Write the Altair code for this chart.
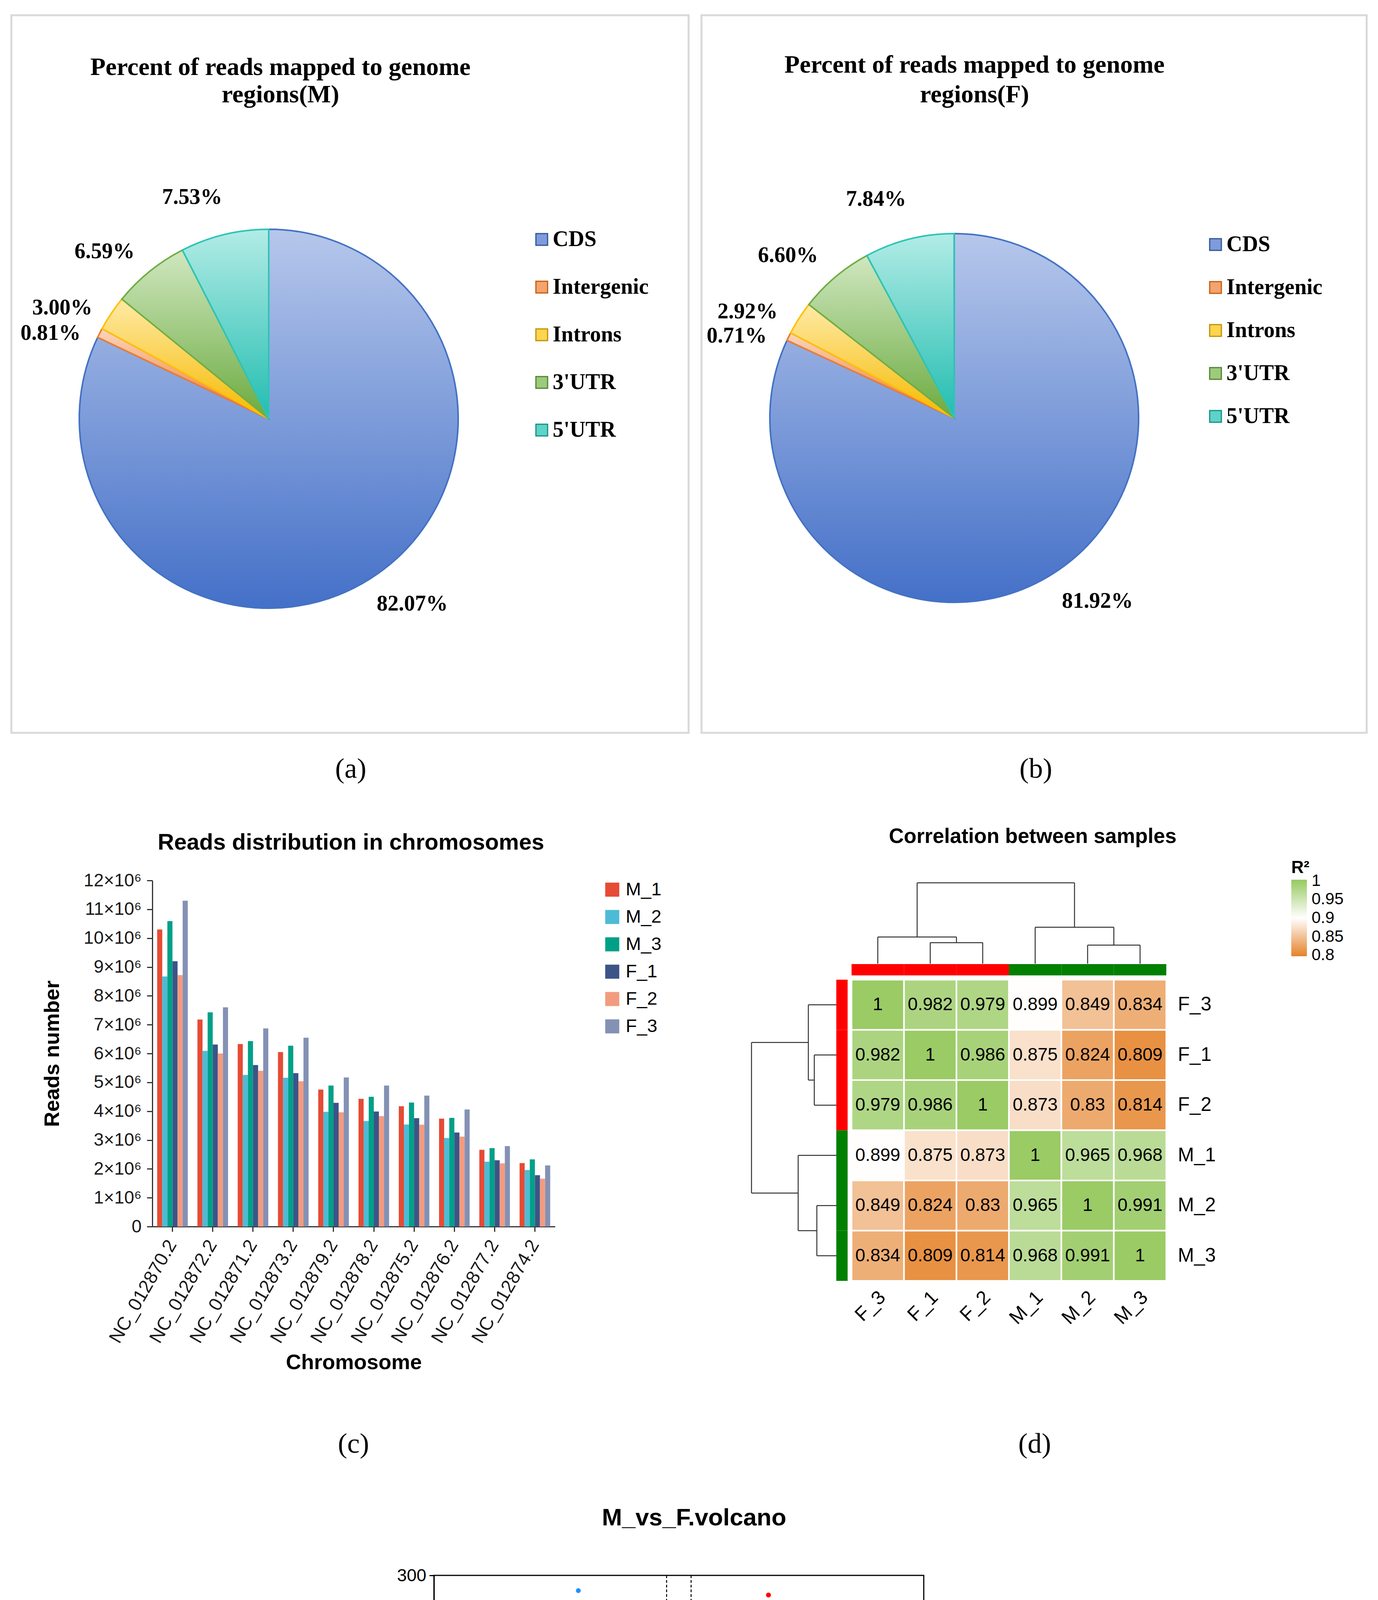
import math
import altair as alt
import pandas as pd

SERIF = "Liberation Serif"
SANS = "Liberation Sans"

# ======================= DATA =======================
regions = ["CDS", "Intergenic", "Introns", "3'UTR", "5'UTR"]
pct_M = [82.07, 0.81, 3.00, 6.59, 7.53]
pct_F = [81.92, 0.71, 2.92, 6.60, 7.84]
title_M = ["Percent of reads mapped to genome", "regions(M)"]
title_F = ["Percent of reads mapped to genome", "regions(F)"]
captions = ["(a)", "(b)", "(c)", "(d)", "(e)"]

chromosomes = ["NC_012870.2", "NC_012872.2", "NC_012871.2", "NC_012873.2", "NC_012879.2",
               "NC_012878.2", "NC_012875.2", "NC_012876.2", "NC_012877.2", "NC_012874.2"]
samples = ["M_1", "M_2", "M_3", "F_1", "F_2", "F_3"]
reads_M_1 = [10.30, 7.18, 6.33, 6.05, 4.75, 4.43, 4.17, 3.74, 2.66, 2.20]
reads_M_2 = [8.67, 6.09, 5.26, 5.16, 3.98, 3.66, 3.54, 3.07, 2.25, 1.96]
reads_M_3 = [10.59, 7.43, 6.43, 6.27, 4.89, 4.50, 4.30, 3.77, 2.72, 2.33]
reads_F_1 = [9.20, 6.31, 5.60, 5.32, 4.29, 3.99, 3.76, 3.26, 2.30, 1.78]
reads_F_2 = [8.72, 6.00, 5.40, 5.04, 3.96, 3.83, 3.53, 3.12, 2.19, 1.66]
reads_F_3 = [11.30, 7.60, 6.87, 6.55, 5.17, 4.89, 4.54, 4.06, 2.79, 2.12]
reads_ticks = list(range(0, 13))

hm_samples = ["F_3", "F_1", "F_2", "M_1", "M_2", "M_3"]
hm_groups = ["F", "F", "F", "M", "M", "M"]
r2_matrix = [
    [1, 0.982, 0.979, 0.899, 0.849, 0.834],
    [0.982, 1, 0.986, 0.875, 0.824, 0.809],
    [0.979, 0.986, 1, 0.873, 0.83, 0.814],
    [0.899, 0.875, 0.873, 1, 0.965, 0.968],
    [0.849, 0.824, 0.83, 0.965, 1, 0.991],
    [0.834, 0.809, 0.814, 0.968, 0.991, 1],
]
r2_ticks = [0.8, 0.85, 0.9, 0.95, 1.0]
dendro_merges = [("F_1", "F_2", 0.26), ("F_3", "F_1+F_2", 0.33), ("M_2", "M_3", 0.23),
                 ("M_1", "M_2+M_3", 0.45), ("F_3+F_1+F_2", "M_1+M_2+M_3", 1.0)]

sig_labels = ["up(2204)", "nosig(29,341)", "down(1399)"]
thr_fc = [-1, 1]
thr_p = [1.3]
nosig_pts = [(-0.98, 16.0), (-0.95, 13.2), (-0.92, 10.6), (-0.88, 8.2), (-0.82, 6.1), (-0.74, 4.4),
             (-0.64, 3.0), (-0.52, 2.0), (-0.40, 1.2), (-0.28, 0.6), (-0.96, 11.8), (-0.9, 7.2),
             (-0.78, 5.0), (-0.6, 2.4), (0.94, 19.0), (0.92, 16.5), (0.9, 14.0), (0.86, 11.5),
             (0.8, 9.0), (0.72, 7.0), (0.62, 5.2), (0.52, 3.6), (0.42, 2.4), (0.32, 1.4), (0.2, 0.7),
             (0.88, 12.8), (0.76, 8.0), (0.58, 4.2), (0.05, 0.3), (-0.12, 0.4), (-7.4, 0.5),
             (-6.8, 0.3), (-6.2, 0.7), (-5.6, 0.4), (-5.0, 0.8), (-4.4, 0.3), (-3.8, 0.6), (-3.2, 0.2),
             (-2.6, 0.9), (-2.0, 0.4), (-1.4, 0.7), (1.5, 0.4), (2.5, 0.6), (3.5, 0.3), (4.5, 0.7),
             (5.5, 0.4), (6.5, 0.8), (7.3, 0.5), (8.0, 0.3), (8.6, 0.7), (9.2, 0.4), (9.8, 0.6),
             (10.4, 0.3), (11.0, 0.5), (-6.5, 0.9), (11.1, 0.2)]
down_sparse = [(-8.21, 290.2), (-8.56, 275.4), (-6.74, 275.7), (-3.85, 189.4), (-6.47, 171.0),
               (-7.94, 160.0), (-8.71, 152.0), (-4.46, 142.6), (-9.84, 132.6), (-7.01, 135.9),
               (-6.36, 136.2), (-6.13, 132.6), (-3.81, 134.4), (-3.42, 122.1), (-6.12, 119.3),
               (-3.15, 116.8), (-4.53, 103.3), (-5.34, 101.5), (-3.06, 100.7), (-2.41, 101.7),
               (-6.24, 97.9), (-7.15, 94.1), (-6.82, 94.5), (-4.33, 93.7), (-4.93, 86.5), (-5.50, 83.3),
               (-7.18, 81.5), (-9.52, 74.4), (-3.64, 78.3), (-3.80, 76.0), (-3.55, 72.9), (-3.05, 73.3),
               (-2.91, 71.4), (-3.34, 68.3), (-3.18, 70.0), (-5.38, 75.7), (-5.60, 71.6), (-8.49, 66.9),
               (-8.21, 63.9), (-4.54, 66.6), (-4.77, 64.1), (-3.93, 62.6), (-3.88, 60.8), (-3.25, 62.2),
               (-2.44, 62.0), (-2.04, 60.4), (-6.25, 60.7), (-7.28, 57.9), (-8.44, 56.6), (-9.88, 54.8),
               (-6.21, 54.4), (-5.87, 53.8), (-5.36, 55.1), (-2.54, 58.3), (-2.45, 56.2), (-2.48, 54.1),
               (-3.97, 51.2), (-2.58, 50.8), (-2.21, 51.2), (-3.11, 49.9), (-11.30, 47.7), (-9.17, 45.7),
               (-4.79, 44.1), (-4.28, 43.2), (-2.15, 46.8), (-1.56, 47.3), (-1.99, 43.1), (-1.59, 44.0),
               (-3.44, 46.6), (-3.18, 44.9), (-8.48, 42.8), (-8.08, 42.2), (-7.95, 42.4), (-9.17, 38.2),
               (-8.01, 37.2), (-8.79, 34.3), (-7.05, 36.5), (-6.19, 36.3), (-5.80, 37.8), (-5.30, 34.3),
               (-7.15, 31.3), (-6.72, 28.3), (-10.04, 27.5), (-9.92, 25.4), (-8.62, 25.0), (-8.21, 26.9),
               (-7.95, 26.1), (-5.56, 31.1), (-5.70, 27.8), (-5.83, 25.7), (-4.73, 27.6), (-6.68, 20.1),
               (-7.60, 18.1), (-8.0, 15.2), (-7.55, 12.5), (-7.09, 14.8), (-6.73, 11.0), (-6.58, 8.1),
               (-5.72, 19.8), (-5.56, 17.9), (-5.03, 21.9), (-5.23, 14.0), (-4.70, 17.7), (-5.92, 11.0),
               (-5.30, 6.4), (-4.77, 11.0), (-3.97, 19.4), (-10.78, 20.4), (-10.03, 17.2), (-9.38, 13.7),
               (-8.90, 12.0), (-8.24, 9.8), (-7.75, 7.7), (-9.2, 5.2), (-8.9, 4.0), (-8.6, 3.0),
               (-8.3, 2.2), (-7.6, 2.9), (-7.3, 5.0), (-7.0, 3.2), (-6.8, 1.8), (-6.5, 4.4), (-6.3, 2.5),
               (-6.0, 6.0), (-5.8, 3.4), (-5.6, 1.6), (-5.4, 8.6), (-5.2, 4.1), (-5.0, 2.2), (-4.8, 6.5),
               (-4.6, 3.0), (-6.6, 7.3), (-7.2, 7.9), (-5.9, 9.0), (-6.9, 5.8), (-8.0, 9.6), (-4.9, 14.5),
               (-4.5, 9.0), (-4.6, 22.5), (-3.3, 41.5), (-2.9, 42.5), (-2.5, 40.8), (-2.1, 39.0),
               (-1.7, 41.0), (-1.4, 38.0), (-3.6, 38.5), (-2.3, 44.5), (-2.7, 47.5), (-3.0, 38.0),
               (-4.2, 26.0), (-3.7, 31.5), (-3.4, 35.0), (-1.3, 33.5), (-1.2, 29.5), (-4.0, 24.0)]
down_streak = [(-15.59, 34.4), (-14.60, 29.6), (-14.45, 29.0), (-14.24, 28.2), (-13.91, 26.5),
               (-13.75, 25.8), (-13.51, 24.8), (-13.30, 24.1), (-13.05, 23.2), (-12.85, 22.0),
               (-12.58, 21.1), (-12.35, 20.1), (-12.12, 19.0), (-11.90, 18.0), (-11.66, 16.9),
               (-11.40, 15.9), (-11.13, 14.8), (-10.85, 14.0), (-10.60, 13.1), (-10.35, 12.3),
               (-10.07, 11.5), (-9.80, 10.4), (-9.54, 9.5), (-9.30, 8.8), (-9.01, 7.9), (-8.75, 7.0),
               (-8.48, 6.0), (-8.20, 5.2), (-7.95, 4.3), (-7.70, 3.5), (-7.42, 2.7), (-7.02, 1.9),
               (-12.7, 21.8), (-11.0, 14.1), (-9.7, 9.6), (-8.6, 5.9)]
down_core_rows = [
    (2.0, [-6.9, -6.2, -5.5, -4.9, -4.3, -3.9, -3.5, -3.1, -2.7, -2.3, -1.9, -1.5, -1.1]),
    (3.6, [-6.6, -5.8, -5.1, -4.5, -4.1, -3.7, -3.3, -2.9, -2.5, -2.1, -1.7, -1.3, -1.02]),
    (5.8, [-4.35, -3.95, -3.55, -3.15, -2.75, -2.35, -1.95, -1.55, -1.15]),
    (8.2, [-4.2, -3.8, -3.4, -3.0, -2.6, -2.2, -1.8, -1.4, -1.03]),
    (10.7, [-4.1, -3.7, -3.3, -2.9, -2.5, -2.1, -1.7, -1.3]),
    (13.1, [-3.95, -3.55, -3.15, -2.75, -2.35, -1.95, -1.55, -1.12]),
    (15.6, [-3.8, -3.4, -3.0, -2.6, -2.2, -1.8, -1.4, -1.04]),
    (18.1, [-3.65, -3.25, -2.85, -2.45, -2.05, -1.65, -1.25]),
    (20.6, [-3.5, -3.1, -2.7, -2.3, -1.9, -1.5, -1.08]),
    (23.1, [-3.3, -2.9, -2.5, -2.1, -1.7, -1.3]),
    (25.6, [-3.15, -2.75, -2.35, -1.95, -1.55, -1.12]),
    (28.1, [-3.0, -2.6, -2.2, -1.8, -1.4]),
    (30.6, [-2.8, -2.4, -2.0, -1.6, -1.25]),
    (33.1, [-2.7, -2.3, -1.9, -1.5]),
    (36.0, [-2.9, -2.45, -2.05, -1.65]),
    (39.5, [-2.75, -2.25, -1.8]),
]
up_sparse = [(7.32, 287.4), (5.39, 230.4), (5.82, 201.7), (5.74, 183.3), (3.0, 170.2), (7.94, 166.1),
             (4.58, 161.5), (5.62, 159.5), (6.71, 161.5), (3.88, 147.9), (2.79, 138.1), (5.19, 136.2),
             (7.25, 136.0), (7.72, 130.6), (8.06, 126.6), (5.49, 122.8), (6.65, 120.9), (3.71, 114.1),
             (6.11, 113.1), (3.26, 109.2), (4.66, 105.8), (8.64, 103.7), (3.72, 102.8), (3.91, 101.4),
             (5.56, 102.1), (8.33, 100.2), (8.71, 100.5), (2.82, 98.5), (3.76, 97.5), (6.40, 97.4),
             (6.10, 93.9), (8.76, 91.5), (4.23, 91.0), (7.04, 90.8), (7.84, 92.5), (3.02, 89.2),
             (4.94, 89.4), (3.58, 87.0), (3.60, 84.5), (4.16, 87.5), (5.15, 84.8), (5.49, 85.1),
             (7.75, 85.1), (7.93, 84.2), (8.30, 86.2), (2.67, 82.1), (3.13, 80.1), (3.43, 81.8),
             (6.10, 82.1), (8.52, 78.4), (2.82, 76.5), (3.87, 77.4), (4.61, 76.6), (5.01, 74.7),
             (4.63, 72.5), (5.12, 72.8), (6.36, 73.8), (3.60, 71.9), (8.87, 70.8), (2.46, 67.9),
             (3.57, 67.9), (4.11, 68.3), (7.25, 69.5), (8.82, 65.9), (4.63, 65.0), (4.92, 65.2),
             (6.92, 65.0), (7.10, 63.7), (7.43, 63.2), (7.65, 61.3), (10.46, 62.6), (11.00, 62.3),
             (2.93, 63.4), (3.10, 61.5), (2.70, 60.3), (2.79, 57.3), (4.92, 60.9), (1.77, 57.8),
             (1.91, 53.0), (5.82, 58.9), (5.91, 55.8), (6.54, 59.3), (5.38, 56.5), (10.62, 56.8),
             (11.49, 58.6), (8.88, 57.4), (9.14, 54.5), (8.31, 53.5), (6.38, 52.5), (4.01, 58.7),
             (4.38, 57.5), (3.73, 55.8), (4.22, 54.4), (3.36, 54.0), (3.07, 51.6), (5.12, 51.1),
             (5.26, 51.6), (7.84, 46.1), (8.58, 40.0), (9.23, 39.8), (9.13, 37.7), (9.57, 36.2),
             (11.80, 35.1), (6.83, 37.2), (7.63, 36.8), (6.09, 45.0), (6.22, 43.8), (5.67, 43.6),
             (5.52, 40.0), (5.89, 37.5), (6.09, 35.1), (6.54, 29.9), (7.37, 30.6), (7.63, 31.8),
             (8.44, 29.2), (8.30, 27.3), (9.93, 26.8), (11.34, 23.6), (11.76, 22.8), (11.83, 22.4),
             (8.88, 22.4), (9.34, 23.3), (9.54, 20.0), (10.48, 21.7), (10.24, 18.4), (9.93, 16.7),
             (8.58, 18.4), (8.92, 18.4), (7.84, 20.8), (7.15, 24.5), (7.77, 24.9), (13.14, 16.7),
             (13.90, 15.8), (13.73, 9.6), (15.81, 6.1), (11.69, 12.9), (11.89, 12.0), (11.20, 10.6),
             (11.34, 8.7), (10.93, 6.8), (11.66, 2.7), (10.65, 4.0), (10.10, 5.4), (7.47, 12.5),
             (7.81, 12.0), (14.73, 29.6), (14.01, 27.1), (1.6, 48.5), (2.1, 47.0), (2.6, 49.5),
             (3.2, 47.8), (3.9, 48.9), (4.4, 46.9), (2.4, 52.0), (3.6, 50.8), (1.3, 46.5), (6.8, 22.0),
             (7.2, 18.0), (6.9, 15.5), (7.4, 15.8), (6.6, 26.5), (7.0, 28.0), (8.2, 15.0), (8.0, 25.5),
             (5.6, 30.5), (5.9, 27.5), (6.2, 24.0), (8.0, 2.0), (8.5, 3.5), (9.0, 1.9), (9.3, 5.5),
             (9.7, 3.0), (10.2, 2.4), (10.5, 7.2), (8.8, 6.3), (9.9, 8.8), (10.8, 2.5), (7.8, 4.8),
             (8.3, 6.0), (4.9, 40.2), (5.1, 33.8), (4.6, 44.0), (1.9, 44.0), (3.3, 43.5), (5.5, 35.5),
             (6.0, 32.5), (6.9, 11.0), (7.6, 9.5), (1.2, 39.5), (4.7, 38.0)]
up_streak = [(8.0, 6.6), (8.3, 7.6), (8.6, 8.6), (8.9, 9.6), (9.2, 10.7), (9.5, 11.7), (9.8, 12.7),
             (10.1, 13.7), (10.4, 14.8), (10.7, 15.8), (11.0, 16.8), (11.3, 17.9), (11.6, 18.9),
             (11.9, 19.9), (12.2, 21.0), (12.5, 22.0), (12.8, 23.0), (13.1, 24.0), (13.4, 25.0),
             (13.6, 25.7), (8.45, 7.8), (9.05, 9.9), (9.65, 11.9), (10.25, 13.9), (10.85, 16.0),
             (11.45, 18.1), (12.05, 20.1), (12.65, 22.2), (13.25, 24.2)]
up_core_rows = [
    (2.0, [1.05, 1.45, 1.85, 2.25, 2.65, 3.05, 3.45, 3.85, 4.25, 4.65, 5.05, 5.45, 5.85, 6.25, 6.65,
           7.05, 7.45, 7.9, 8.4, 8.9, 9.5, 10.1, 10.7]),
    (4.4, [1.2, 1.6, 2.0, 2.4, 2.8, 3.2, 3.6, 4.0, 4.4, 4.8, 5.2, 5.6, 6.0, 6.4, 6.8, 7.2, 7.6, 8.1]),
    (6.8, [1.02, 1.4, 1.8, 2.2, 2.6, 3.0, 3.4, 3.8, 4.2, 4.6, 5.0, 5.4, 5.8, 6.2, 6.6, 7.0, 7.4]),
    (9.2, [1.15, 1.55, 1.95, 2.35, 2.75, 3.15, 3.55, 3.95, 4.35, 4.75, 5.15, 5.55, 5.95, 6.35, 6.75, 7.1]),
    (11.6, [1.05, 1.45, 1.85, 2.25, 2.65, 3.05, 3.45, 3.85, 4.25, 4.65, 5.05, 5.45, 5.85, 6.25, 6.7]),
    (14.0, [1.2, 1.6, 2.0, 2.4, 2.8, 3.2, 3.6, 4.0, 4.4, 4.8, 5.2, 5.6, 6.0, 6.4]),
    (16.4, [1.03, 1.4, 1.8, 2.2, 2.6, 3.0, 3.4, 3.8, 4.2, 4.6, 5.0, 5.4, 5.8, 6.2]),
    (18.8, [1.15, 1.55, 1.95, 2.35, 2.75, 3.15, 3.55, 3.95, 4.35, 4.75, 5.15, 5.55, 5.95]),
    (21.2, [1.05, 1.45, 1.85, 2.25, 2.65, 3.05, 3.45, 3.85, 4.25, 4.65, 5.05, 5.5]),
    (23.6, [1.2, 1.6, 2.0, 2.4, 2.8, 3.2, 3.6, 4.0, 4.4, 4.8, 5.2]),
    (26.0, [1.05, 1.45, 1.85, 2.25, 2.65, 3.05, 3.45, 3.85, 4.25, 4.65, 5.0]),
    (28.4, [1.2, 1.6, 2.0, 2.4, 2.8, 3.2, 3.6, 4.0, 4.4, 4.8]),
    (30.8, [1.3, 1.7, 2.1, 2.5, 2.9, 3.3, 3.7, 4.1, 4.5]),
    (33.2, [1.4, 1.8, 2.2, 2.6, 3.0, 3.4, 3.8, 4.2]),
    (35.6, [1.5, 1.9, 2.3, 2.7, 3.1, 3.5, 3.95]),
    (38.5, [1.6, 2.05, 2.5, 2.95, 3.4, 3.85]),
    (41.5, [1.45, 2.0, 2.6, 3.1, 3.65, 4.2]),
    (44.8, [1.4, 2.2, 2.9, 3.5]),
]

# ======================= STYLE =======================
legend_fill = ["#7E9BDB", "#F4A46E", "#FFD44F", "#9CCB7C", "#5ED3C8"]
legend_stroke = ["#2F5597", "#C55A11", "#BF9000", "#538135", "#178E85"]
grad_top = ["#B6C7EB", "#FAD5BC", "#FFEAA6", "#D0E7C0", "#B2ECE6"]
grad_bottom = ["#4470C8", "#EC7A2E", "#F5BA00", "#6CAB40", "#22BDB0"]
slice_stroke = ["#4472C4", "#ED7D31", "#FFC000", "#70AD47", "#2EC4B6"]
npg = ["#E64B35", "#4DBBD5", "#00A087", "#3C5488", "#F39B7F", "#8491B4"]
LABEL_SHIFT = -0.096
NOVIEW = alt.ViewBackground(stroke="transparent", strokeWidth=0)
IND = dict(color="independent", stroke="independent", fill="independent")


def spacer(w, h):
    return alt.Chart(pd.DataFrame({"z": [0]})).mark_point(opacity=0).properties(
        width=w, height=h, view=NOVIEW)


def pie_panel(pcts, title_lines, caption, W, H, cx, cy, R, label_r, tx, ty, leg_x, leg_y, leg_pad,
              cap_x, cap_y):
    two_pi = 2 * math.pi
    ends, acc = [], 0.0
    for p in pcts:
        acc += p
        ends.append(acc / 100.0 * two_pi)
    starts = [e - p / 100.0 * two_pi for e, p in zip(ends, pcts)]
    df = pd.DataFrame({
        "idx": list(range(len(regions))),
        "region": regions,
        "start": starts,
        "end": ends,
        "mid": [(s + e) / 2 + LABEL_SHIFT for s, e in zip(starts, ends)],
        "label": [f"{p:.2f}%" for p in pcts],
    })
    base = alt.Chart(df)
    pos = dict(x=alt.value(cx), y=alt.value(cy))
    leg = alt.Legend(title=None, orient="none", legendX=leg_x, legendY=leg_y, symbolType="square",
                     symbolSize=900, symbolStrokeWidth=3, labelFont=SERIF, labelFontWeight="bold",
                     labelFontSize=56, labelColor="black", labelOffset=0, rowPadding=leg_pad,
                     padding=0, labelLimit=0)
    layers = [base.mark_arc(radius=R, strokeWidth=3).encode(
        theta=alt.Theta("start:Q", scale=None), theta2=alt.Theta2("end"),
        color=alt.Color("region:N", scale=alt.Scale(domain=regions, range=legend_fill), legend=leg),
        stroke=alt.Stroke("region:N", scale=alt.Scale(domain=regions, range=legend_stroke), legend=leg),
        **pos)]
    for i in range(len(regions)):
        grad = alt.LinearGradient(gradient="linear", x1=0, y1=0, x2=0, y2=1,
                                  stops=[alt.GradientStop(color=grad_top[i], offset=0),
                                         alt.GradientStop(color=grad_bottom[i], offset=1)])
        layers.append(base.transform_filter(alt.datum.idx == i).mark_arc(
            radius=R, fill=grad, stroke=slice_stroke[i], strokeWidth=4).encode(
            theta=alt.Theta("start:Q", scale=None), theta2=alt.Theta2("end"), **pos))
    layers.append(base.mark_text(radius=label_r, font=SERIF, fontWeight="bold", fontSize=56,
                                 color="black").encode(
        theta=alt.Theta("mid:Q", scale=None), text="label:N", **pos))
    tdf = pd.DataFrame({"t": title_lines, "i": list(range(len(title_lines)))})
    for i in range(len(title_lines)):
        layers.append(alt.Chart(tdf).transform_filter(alt.datum.i == i).mark_text(
            font=SERIF, fontWeight="bold", fontSize=64, color="black").encode(
            text="t:N", x=alt.value(tx), y=alt.value(ty[i])))
    layers.append(alt.Chart(pd.DataFrame({"c": [caption]})).mark_text(
        font=SERIF, fontSize=72, color="black").encode(text="c:N", x=alt.value(cap_x), y=alt.value(cap_y)))
    return alt.layer(*layers).properties(width=W, height=H,
                                         view=alt.ViewBackground(stroke="#D9D9D9", strokeWidth=5))


pieA = pie_panel(pct_M, title_M, captions[0], 1734, 1837, 659, 1033, 485, 600, 689, [134, 204],
                 1330, 546, 66, 869, 1930)
pieB = pie_panel(pct_F, title_F, captions[1], 1703, 1837, 647, 1031, 472, 595, 699, [128, 204],
                 1288, 559, 54, 856, 1930)

# ======================= (c) bars =======================
bar_rows = []
for s, vals in zip(samples, [reads_M_1, reads_M_2, reads_M_3, reads_F_1, reads_F_2, reads_F_3]):
    for c, v in zip(chromosomes, vals):
        bar_rows.append({"chrom": c, "sample": s, "reads": v})
bar_df = pd.DataFrame(bar_rows)

bars = alt.Chart(bar_df).mark_bar().encode(
    x=alt.X("chrom:N", sort=chromosomes, scale=alt.Scale(paddingInner=0.24, paddingOuter=0.12),
            axis=alt.Axis(title="Chromosome", labelAngle=300, labelAlign="right", labelBaseline="middle",
                          labelFont=SANS, labelFontSize=48, labelColor="#1a1a1a", labelPadding=25,
                          labelLimit=0, tickSize=13, tickWidth=3, tickColor="#333333",
                          domainColor="#333333", domainWidth=3, titleFont=SANS, titleFontSize=54,
                          titleFontWeight="bold", titleColor="black", titlePadding=121, grid=False,
                          labelOverlap=False)),
    xOffset=alt.XOffset("sample:N", sort=samples),
    y=alt.Y("reads:Q", scale=alt.Scale(domain=[0, 12], nice=False),
            axis=alt.Axis(values=reads_ticks, title="Reads number",
                          labelExpr="datum.value == 0 ? '0' : datum.value + '×10⁶'",
                          labelFont=SANS, labelFontSize=46, labelColor="#1a1a1a", labelPadding=14,
                          labelLimit=0, tickSize=14, tickWidth=3, tickColor="#333333",
                          domainColor="#333333", domainWidth=3, titleFont=SANS, titleFontSize=54,
                          titleFontWeight="bold", titleColor="black", titlePadding=52, grid=False,
                          labelOverlap=False)),
    color=alt.Color("sample:N", sort=samples, scale=alt.Scale(domain=samples, range=npg),
                    legend=alt.Legend(title=None, orient="right", offset=123, symbolType="square",
                                      symbolSize=1296, symbolStrokeWidth=0, labelFont=SANS,
                                      labelFontSize=47, labelColor="black", labelOffset=11,
                                      rowPadding=22, padding=0, labelLimit=0)),
)
bar_cap = alt.Chart(pd.DataFrame({"c": [captions[2]]})).mark_text(
    font=SERIF, fontSize=72, color="black").encode(text="c:N", x=alt.value(515), y=alt.value(1443))
bar_chart = alt.layer(bars, bar_cap).properties(
    width=1031, height=886, view=NOVIEW,
    title=alt.TitleParams("Reads distribution in chromosomes", font=SANS, fontSize=58,
                          fontWeight="bold", color="black", offset=44, anchor="middle",
                          frame="group", dx=-7))

# ======================= (d) heatmap =======================
CW, RH = 134.3, 128.5
HW = 1062
HTOP = 254                      # px from view top down to the first cell row
HH = int(round(6 * RH + HTOP))
hx0 = 6.0 - HW / CW
hy0 = -HTOP / RH
HX = alt.Scale(domain=[hx0, 6.0], nice=False, zero=False)
HY = alt.Scale(domain=[hy0, 6.0], nice=False, zero=False, reverse=True)
TOP_LEAF = -0.319
TOP_ROOT = -1.93
LEFT_LEAF = -0.290
top_span = (TOP_LEAF - TOP_ROOT)
left_span = (LEFT_LEAF - hx0)

cells = []
for j in range(6):
    for i in range(6):
        v = r2_matrix[j][i]
        cells.append({"c0": i, "c1": i + 1, "r0": j, "r1": j + 1, "cx": i + 0.5, "ry": j + 0.5,
                      "r2": v, "txt": f"{v:g}"})
cells_df = pd.DataFrame(cells)

ann_rows = []
for i, g in enumerate(hm_groups):
    ann_rows.append({"c0": i, "c1": i + 1, "r0": -0.312, "r1": -0.086, "grp": g})
    ann_rows.append({"c0": -0.291, "c1": -0.075, "r0": i, "r1": i + 1, "grp": g})
ann_df = pd.DataFrame(ann_rows)


def dendro_segments():
    p = {n: i + 0.5 for i, n in enumerate(hm_samples)}
    h = {n: 0.0 for n in hm_samples}
    segs = []
    for a, b, hh in dendro_merges:
        segs.append((p[a], p[a], h[a], hh))
        segs.append((p[b], p[b], h[b], hh))
        segs.append((p[a], p[b], hh, hh))
        n = a + "+" + b
        p[n] = (p[a] + p[b]) / 2
        h[n] = hh
    return segs


dend_rows = []
for p1, p2, h1, h2 in dendro_segments():
    dend_rows.append({"x1": p1, "x2": p2, "y1": TOP_LEAF - h1 * top_span, "y2": TOP_LEAF - h2 * top_span})
    dend_rows.append({"x1": LEFT_LEAF - h1 * left_span, "x2": LEFT_LEAF - h2 * left_span, "y1": p1, "y2": p2})
dend_df = pd.DataFrame(dend_rows)

lab_df = pd.DataFrame({"lab": hm_samples, "pos": [i + 0.5 for i in range(6)]})

heat_cells = alt.Chart(cells_df).mark_rect(stroke="white", strokeWidth=4).encode(
    x=alt.X("c0:Q", scale=HX, axis=None), x2="c1:Q",
    y=alt.Y("r0:Q", scale=HY, axis=None), y2="r1:Q",
    color=alt.Color("r2:Q", scale=alt.Scale(domain=[0.797, 0.9, 1.003],
                                            range=["#E5822A", "#FFFFFF", "#97C960"], interpolate="rgb"),
                    legend=alt.Legend(title="R²", orient="none", legendX=1382, legendY=-54,
                                      direction="vertical", gradientLength=196, gradientThickness=40,
                                      values=r2_ticks, labelExpr="datum.value + ''", labelOverlap=False,
                                      labelFont=SANS, labelFontSize=42, labelColor="black",
                                      labelOffset=12, labelBaseline="middle", titleFont=SANS,
                                      titleFontSize=44, titleFontWeight="bold", titleColor="black",
                                      titlePadding=8, padding=0, gradientStrokeWidth=0, labelLimit=0)))
heat_text = alt.Chart(cells_df).mark_text(font=SANS, fontSize=46, color="black").encode(
    x=alt.X("cx:Q", scale=HX, axis=None), y=alt.Y("ry:Q", scale=HY, axis=None), text="txt:N")
heat_ann = alt.Chart(ann_df).mark_rect().encode(
    x=alt.X("c0:Q", scale=HX, axis=None), x2="c1:Q",
    y=alt.Y("r0:Q", scale=HY, axis=None), y2="r1:Q",
    fill=alt.Fill("grp:N", scale=alt.Scale(domain=["F", "M"], range=["#FF0000", "#008000"]), legend=None))
heat_dend = alt.Chart(dend_df).mark_rule(color="#333333", strokeWidth=2.5).encode(
    x=alt.X("x1:Q", scale=HX, axis=None), x2="x2:Q",
    y=alt.Y("y1:Q", scale=HY, axis=None), y2="y2:Q")
row_labels = alt.Chart(lab_df).mark_text(font=SANS, fontSize=50, color="black", align="left").encode(
    x=alt.X("lx:Q", scale=HX, axis=None), y=alt.Y("pos:Q", scale=HY, axis=None), text="lab:N"
).transform_calculate(lx="6.22")
col_labels = alt.Chart(lab_df).mark_text(font=SANS, fontSize=50, color="black", align="right",
                                         baseline="middle", angle=315).encode(
    x=alt.X("cpos:Q", scale=HX, axis=None), y=alt.Y("ly:Q", scale=HY, axis=None), text="lab:N"
).transform_calculate(cpos="datum.pos + 0.09", ly="6.27")
heat_cap = alt.Chart(pd.DataFrame({"c": [captions[3]]})).mark_text(
    font=SERIF, fontSize=72, color="black").encode(text="c:N", x=alt.value(725), y=alt.value(1443))
heat_chart = alt.layer(heat_cells, heat_text, heat_ann, heat_dend, row_labels, col_labels, heat_cap).properties(
    width=HW, height=HH, view=NOVIEW,
    title=alt.TitleParams("Correlation between samples", font=SANS, fontSize=53, fontWeight="bold",
                          color="black", offset=31, anchor="middle", frame="group", dx=189)
).resolve_scale(color="independent", fill="independent")

# ======================= (e) volcano =======================
vrows = []
for x, y in nosig_pts:
    vrows.append((x, y, sig_labels[1]))
for x, y in down_sparse + down_streak:
    vrows.append((x, y, sig_labels[2]))
for y, xs in down_core_rows:
    for x in xs:
        vrows.append((x, y, sig_labels[2]))
for x, y in up_sparse + up_streak:
    vrows.append((x, y, sig_labels[0]))
for y, xs in up_core_rows:
    for x in xs:
        vrows.append((x, y, sig_labels[0]))
vdf = pd.DataFrame(vrows, columns=["lfc", "nlp", "sig"])
vdf["o"] = list(range(len(vdf)))

VX = alt.Scale(domain=[-20, 20], nice=False, zero=False)
VY = alt.Scale(domain=[0, 300], nice=False, zero=False)
vx_axis = alt.Axis(values=list(range(-20, 21, 5)), title="Log2FC", titleFont=SANS, titleFontSize=51,
                   titleFontWeight="bold", titleColor="black", titlePadding=34, labelFont=SANS,
                   labelFontSize=45, labelColor="black", labelPadding=6, tickSize=12, tickWidth=3,
                   tickColor="black", domainColor="black", domainWidth=3, grid=False,
                   labelFlush=False, labelOverlap=False)
vy_axis = alt.Axis(values=list(range(0, 301, 20)), title="−Log10(Padjust)", titleFont=SANS,
                   titleFontSize=51, titleFontWeight="bold", titleColor="black", titlePadding=44,
                   labelFont=SANS, labelFontSize=45, labelColor="black", labelPadding=8, tickSize=12,
                   tickWidth=3, tickColor="black", domainColor="black", domainWidth=3, grid=False,
                   labelFlush=False, labelOverlap=False)
vpoints = alt.Chart(vdf).mark_circle(size=155, opacity=1).encode(
    x=alt.X("lfc:Q", scale=VX, axis=vx_axis),
    y=alt.Y("nlp:Q", scale=VY, axis=vy_axis),
    color=alt.Color("sig:N", scale=alt.Scale(domain=sig_labels, range=["#FF0000", "#A9A9A9", "#1E90FF"]),
                    legend=alt.Legend(title="Significant", orient="none", legendX=1282, legendY=506,
                                      symbolType="circle", symbolSize=1018, symbolStrokeWidth=0,
                                      labelFont=SANS, labelFontSize=42, labelFontWeight="bold",
                                      labelColor="black", labelOffset=2, rowPadding=19,
                                      titleFont=SANS, titleFontSize=42, titleFontWeight="bold",
                                      titleColor="black", titlePadding=12, padding=0, labelLimit=0,
                                      titleLimit=1000)),
    order=alt.Order("o:Q"),
)
vrule_x = alt.Chart(pd.DataFrame({"v": thr_fc})).mark_rule(color="black", strokeWidth=2.5,
                                                           strokeDash=[7, 5]).encode(
    x=alt.X("v:Q", scale=VX, axis=vx_axis))
vrule_y = alt.Chart(pd.DataFrame({"v": thr_p})).mark_rule(color="black", strokeWidth=2.5,
                                                          strokeDash=[7, 5]).encode(
    y=alt.Y("v:Q", scale=VY, axis=vy_axis))
vcap = alt.Chart(pd.DataFrame({"c": [captions[4]]})).mark_text(
    font=SERIF, fontSize=72, color="black").encode(text="c:N", x=alt.value(660), y=alt.value(1475))
volcano = alt.layer(vpoints, vrule_x, vrule_y, vcap).properties(
    width=1254, height=1196,
    view=alt.ViewBackground(stroke="black", strokeWidth=3),
    title=alt.TitleParams("M_vs_F.volcano", font=SANS, fontSize=62, fontWeight="bold", color="black",
                          offset=93, anchor="middle", frame="group", dx=39))

# ======================= layout =======================
row1 = alt.hconcat(pieA, pieB, spacing=27).resolve_scale(**IND)
row2_inner = alt.hconcat(bar_chart, heat_chart, spacing=228).resolve_scale(**IND)
row2 = alt.hconcat(spacer(78, 10), row2_inner, spacing=0).resolve_scale(**IND)
row3 = alt.hconcat(spacer(889, 10), volcano, spacing=0).resolve_scale(**IND)
lower = alt.vconcat(row2, row3, spacing=120).resolve_scale(**IND)

chart = alt.vconcat(row1, lower, spacing=108).resolve_scale(**IND).properties(
    padding={"left": 18, "top": 28, "right": 5, "bottom": 5},
    background="white",
).configure_view(stroke="transparent", strokeWidth=0).configure(font=SANS)

chart.save("out.html", embed_options={"renderer": "svg", "actions": False})
